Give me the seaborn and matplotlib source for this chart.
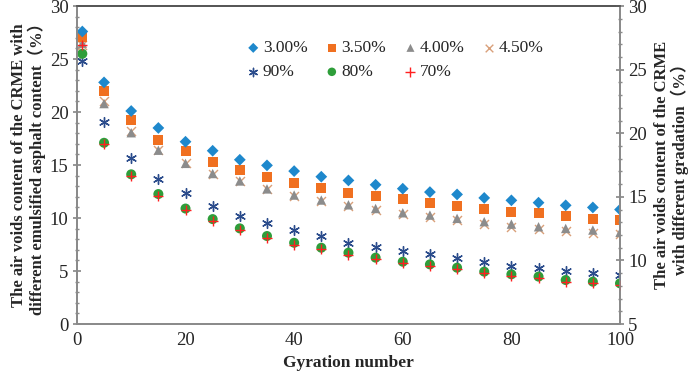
import matplotlib
matplotlib.use("Agg")
import matplotlib.pyplot as plt
import pandas as pd
import seaborn as sns
from matplotlib.ticker import MultipleLocator

gyrations = [1, 5, 10, 15, 20, 25, 30, 35, 40, 45, 50, 55, 60, 65, 70, 75, 80, 85, 90, 95, 100]

# air voids (%) vs emulsified asphalt content -> left axis
content_series = {
    "3.00%": [27.6, 22.8, 20.1, 18.5, 17.2, 16.35, 15.5, 14.97, 14.43, 13.9, 13.55,
              13.14, 12.77, 12.45, 12.23, 11.9, 11.67, 11.45, 11.2, 11.0, 10.8],
    "3.50%": [27.05, 22.0, 19.25, 17.4, 16.3, 15.3, 14.5, 13.9, 13.3, 12.86, 12.4,
              12.08, 11.76, 11.45, 11.13, 10.82, 10.6, 10.44, 10.16, 9.93, 9.78],
    "4.00%": [26.5, 20.8, 18.05, 16.4, 15.16, 14.2, 13.5, 12.75, 12.17, 11.7, 11.25,
              10.9, 10.5, 10.28, 9.97, 9.66, 9.43, 9.18, 9.02, 8.87, 8.65],
    "4.50%": [26.3, 21.0, 18.2, 16.4, 15.2, 14.2, 13.45, 12.7, 12.1, 11.6, 11.1,
              10.75, 10.35, 10.06, 9.8, 9.43, 9.2, 8.98, 8.74, 8.6, 8.45],
}

# air voids (%) vs gradation -> right axis
gradation_series = {
    "90%": [25.67, 20.92, 18.08, 16.42, 15.28, 14.28, 13.5, 12.92, 12.39, 11.92, 11.39,
            11.08, 10.75, 10.48, 10.17, 9.88, 9.56, 9.38, 9.17, 9.03, 8.85],
    "80%": [26.25, 19.25, 16.77, 15.22, 14.08, 13.25, 12.52, 11.92, 11.39, 11.0, 10.61,
            10.22, 9.9, 9.69, 9.43, 9.12, 8.91, 8.73, 8.46, 8.33, 8.2],
    "70%": [26.92, 19.13, 16.63, 15.08, 13.96, 13.13, 12.38, 11.79, 11.25, 10.88, 10.46,
            10.08, 9.77, 9.57, 9.29, 9.0, 8.79, 8.6, 8.33, 8.21, 8.08],
}

styles = {
    "3.00%": dict(marker="D", color="#1E88CC", s=36),
    "3.50%": dict(marker="s", color="#F07020", s=52),
    "4.00%": dict(marker="^", color="#8C8C8C", s=46),
    "4.50%": dict(marker="x", color="#D9A07A", s=42),
    "90%": dict(marker=(6, 2, 0), color="#2B4C8C", s=50),
    "80%": dict(marker="o", color="#2E9E3A", s=52),
    "70%": dict(marker="+", color="#FF2020", s=60),
}
line_markers = ("x", "+", (6, 2, 0))


def make_frame(series):
    rows = []
    for name, vals in series.items():
        rows.append(pd.DataFrame({"gyration": gyrations, "voids": vals, "series": name}))
    return pd.concat(rows, ignore_index=True)


def draw(ax, df, order):
    for name in order:
        st = styles[name]
        sub = df[df["series"] == name]
        is_line = st["marker"] in line_markers
        sns.scatterplot(
            data=sub, x="gyration", y="voids", ax=ax,
            marker=st["marker"], color=st["color"], s=st["s"],
            linewidth=1.0 if is_line else 0,
            edgecolor=st["color"] if is_line else "none",
            label=name, legend=False,
        )


def style_axis(ax):
    ax.tick_params(axis="both", which="major", direction="inout", length=6,
                   color="#8A8A8A", labelsize=13.5, pad=3)
    ax.tick_params(axis="both", which="minor", direction="inout", length=3, color="#8A8A8A")
    for s in ("left", "right", "bottom"):
        ax.spines[s].set_color("#8A8A8A")
    ax.spines["top"].set_color("#555555")


sns.set_theme(style="white")
plt.rcParams["font.family"] = ["Liberation Serif", "DejaVu Serif"]

fig, ax = plt.subplots(figsize=(6.99, 3.79), dpi=100)
fig.subplots_adjust(left=0.110, right=0.887, bottom=0.145, top=0.984)
ax2 = ax.twinx()

left_df = make_frame(content_series)
right_df = make_frame(gradation_series)

draw(ax, left_df, ["4.50%", "4.00%", "3.50%", "3.00%"])
draw(ax2, right_df, ["90%", "80%", "70%"])

ax.set_xlim(0, 100)
ax.set_ylim(0, 30)
ax2.set_ylim(5, 30)
ax.xaxis.set_major_locator(MultipleLocator(20))
ax.xaxis.set_minor_locator(MultipleLocator(5))
ax.yaxis.set_major_locator(MultipleLocator(5))
ax.yaxis.set_minor_locator(MultipleLocator(1))
ax2.yaxis.set_major_locator(MultipleLocator(5))
ax2.yaxis.set_minor_locator(MultipleLocator(1))
style_axis(ax)
style_axis(ax2)
ax2.grid(False)
ax.grid(False)

label_family = ["Liberation Serif", "Noto Sans CJK SC"]
ax.set_xlabel("Gyration number", fontsize=12.5, fontweight="bold", labelpad=4)
ax.set_ylabel("The air voids content of the CRME with\ndifferent emulsified asphalt content\uff08%\uff09",
              fontsize=12, fontweight="bold", linespacing=1.05, labelpad=3,
              family=label_family)
ax2.set_ylabel("The air voids content of the CRME\nwith different gradation\uff08%\uff09",
               fontsize=12, fontweight="bold", linespacing=1.05, labelpad=5,
               family=label_family)

handles = {}
for a in (ax, ax2):
    for h, l in zip(*a.get_legend_handles_labels()):
        handles[l] = h
order = ["3.00%", "90%", "3.50%", "80%", "4.00%", "70%", "4.50%"]
fig.legend([handles[k] for k in order], order, loc="upper left",
           bbox_to_anchor=(0.33, 0.935), ncol=4, frameon=False, fontsize=12.5,
           handlelength=0.8, handletextpad=0.15, columnspacing=1.0, labelspacing=0.45,
           markerscale=0.85)

fig.savefig("out.png", dpi=100)
